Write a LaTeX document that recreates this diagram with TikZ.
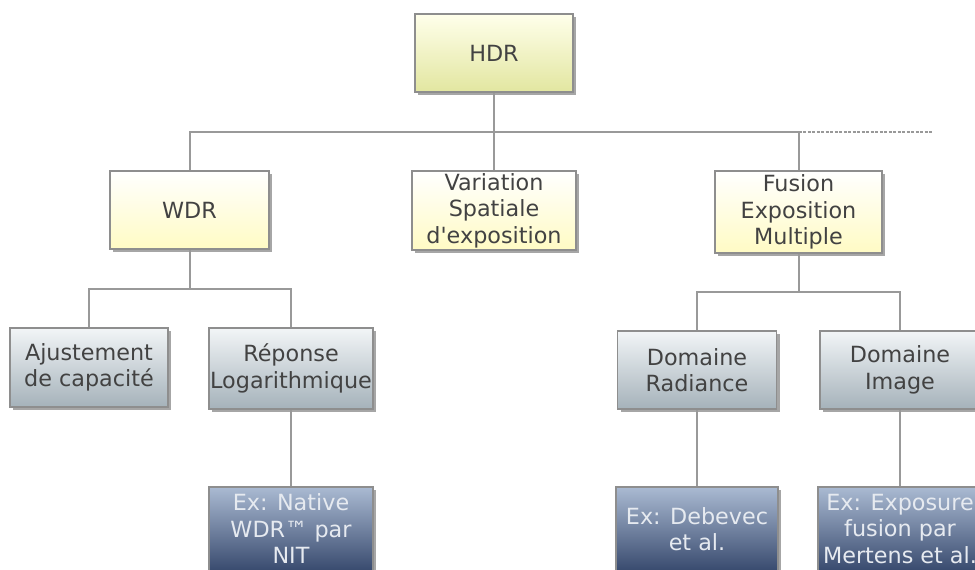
\documentclass[tikz,border=0pt]{standalone}
\usepackage{fontspec}
\setmainfont{DejaVu Sans}
\usetikzlibrary{shadows}
\definecolor{txtgray}{HTML}{424242}
\definecolor{txtlight}{HTML}{E6EAF0}
\definecolor{bordergray}{HTML}{8E8E8E}
\definecolor{conngray}{HTML}{999999}
\tikzset{
  box/.style={rectangle, draw=bordergray, line width=1.2pt, align=center, inner sep=0pt,
    font=\fontsize{22.3}{26.5}\selectfont, text=txtgray,
    drop shadow={shadow xshift=3pt, shadow yshift=-3pt, opacity=0.35, fill=black}},
  hdrbox/.style={box, top color=white!80!yellow!40, bottom color={rgb,255:red,226;green,230;blue,160}},
  yelbox/.style={box, top color=white, bottom color={rgb,255:red,255;green,251;blue,196}},
  graybox/.style={box, top color={rgb,255:red,242;green,245;blue,247}, bottom color={rgb,255:red,165;green,178;blue,186}},
  darkbox/.style={box, text=txtlight, top color={rgb,255:red,170;green,186;blue,210}, bottom color={rgb,255:red,56;green,74;blue,110}},
  conn/.style={draw=conngray, line width=2pt},
}
\begin{document}
\begin{tikzpicture}[x=1pt,y=-1pt]
\useasboundingbox (0,0) rectangle (975,570);
\clip (0,0) rectangle (975,570);
% nodes
\node[hdrbox, minimum width=158pt, minimum height=78pt] (hdr) at (494,53) {HDR};
\node[yelbox, minimum width=159pt, minimum height=78pt] (wdr) at (189.5,210) {WDR};
\node[yelbox, minimum width=164pt, minimum height=79pt] (var) at (494,210.5) {Variation\\Spatiale\\d\textquotesingle exposition};
\node[yelbox, minimum width=167pt, minimum height=82pt] (fus) at (798.5,212) {Fusion\\Exposition\\Multiple};
\node[graybox, minimum width=158pt, minimum height=79pt] (aju) at (89,367.5) {Ajustement\\de capacité};
\node[graybox, minimum width=164pt, minimum height=81pt] (rep) at (291,368.5) {Réponse\\Logarithmique};
\node[graybox, minimum width=159pt, minimum height=78pt] (domr) at (697,370) {Domaine\\Radiance};
\node[graybox, minimum width=160pt, minimum height=78pt] (domi) at (900,370) {Domaine\\Image};
\node[darkbox, minimum width=164pt, minimum height=84pt] (exn) at (291,529) {Ex: Native\\WDR™ par\\NIT};
\node[darkbox, minimum width=162pt, minimum height=84pt] (exd) at (697,529) {Ex: Debevec\\et al.};
\node[darkbox, minimum width=164pt, minimum height=84pt] (exe) at (900,529) {Ex: Exposure\\fusion par\\Mertens et al.};
% connectors
\coordinate (b1) at (494,132);
\coordinate (dashend) at (932,132);
\coordinate (b2) at (189.5,289);
\coordinate (b3) at (798.5,292);
\draw[conn] (hdr.south) -- (b1);
\draw[conn] (wdr.north) |- (b1) -| (fus.north);
\draw[conn] (var.north) -- (b1);
\draw[draw=conngray, line width=1.2pt, dash pattern=on 3pt off 1.5pt] (fus.north |- b1) -- (dashend);
\draw[conn] (wdr.south) -- (b2);
\draw[conn] (aju.north) |- (b2) -| (rep.north);
\draw[conn] (fus.south) -- (b3);
\draw[conn] (domr.north) |- (b3) -| (domi.north);
\draw[conn] (rep.south) -- (exn.north);
\draw[conn] (domr.south) -- (exd.north);
\draw[conn] (domi.south) -- (exe.north);
\end{tikzpicture}
\end{document}
